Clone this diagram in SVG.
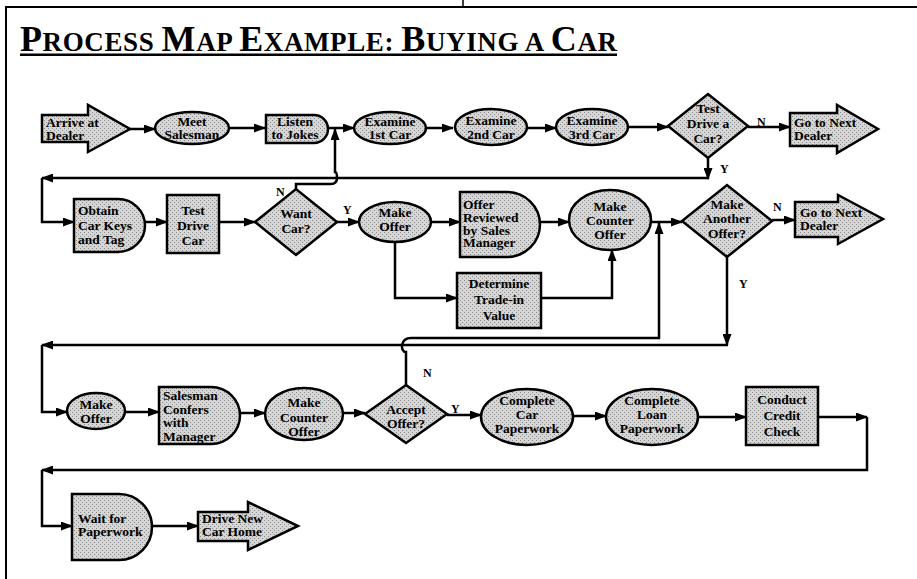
<svg xmlns="http://www.w3.org/2000/svg" width="917" height="579" viewBox="0 0 917 579">
<style>
.n{fill:url(#stip);stroke:#000;stroke-width:2.5}
.t{font-family:"Liberation Serif","Times New Roman",serif;font-weight:bold;font-size:13.5px;fill:#000}
.m{text-anchor:middle}
.c{fill:none;stroke:#000;stroke-width:2.5}
.a{marker-end:url(#ah)}
.l{font-family:"Liberation Serif","Times New Roman",serif;font-weight:bold;font-size:12px;fill:#000}
.ti{font-family:"Liberation Serif","Times New Roman",serif;font-weight:bold;fill:#000}
</style>
<defs>
<pattern id="stip" width="4" height="4" patternUnits="userSpaceOnUse">
<rect width="4" height="4" fill="#d6d6d6"/>
<rect x="0" y="0" width="1" height="1" fill="#8a8a8a"/>
<rect x="2" y="2" width="1" height="1" fill="#8a8a8a"/>
</pattern>
<marker id="ah" markerUnits="userSpaceOnUse" markerWidth="12" markerHeight="9" refX="11" refY="4.5" orient="auto">
<path d="M0,0 L12,4.5 L0,9 Z" fill="#000"/>
</marker>
</defs>
<rect width="917" height="579" fill="#fff"/>
<g id="frame" fill="none" stroke="#000">
<path d="M6,579 V7 H917" stroke-width="2"/>
<path d="M463,0 V7" stroke-width="1.5"/>
</g>
<g id="title">
<text class="ti" x="20" y="51" textLength="597"><tspan font-size="36">P</tspan><tspan font-size="27">ROCESS </tspan><tspan font-size="36">M</tspan><tspan font-size="27">AP </tspan><tspan font-size="36">E</tspan><tspan font-size="27">XAMPLE:  </tspan><tspan font-size="36">B</tspan><tspan font-size="27">UYING A </tspan><tspan font-size="36">C</tspan><tspan font-size="27">AR</tspan></text>
<rect x="20" y="53.5" width="597" height="2.5" fill="#000"/>
</g>
<g id="connectors">
<path class="c a" d="M130,129 H155"/>
<path class="c a" d="M230,128 H265"/>
<path class="c a" d="M328,128 H354"/>
<path class="c a" d="M427,128 H453"/>
<path class="c a" d="M527,128 H556"/>
<path class="c a" d="M628,127 H668"/>
<path class="c a" d="M748,127 H790"/>
<path class="c a" d="M708,158 V179"/>
<path class="c a" d="M709,178 H42"/>
<path class="c a" d="M42,178 V222 H74"/>
<path class="c a" d="M296,189 V184 H331 Q337,184 337,178 Q337,172 335,172 V129"/>
<path class="c a" d="M145,222 H167"/>
<path class="c a" d="M219,222 H255"/>
<path class="c a" d="M337,222 H359"/>
<path class="c a" d="M431,222 H460"/>
<path class="c a" d="M395,242 V298 H457"/>
<path class="c a" d="M540,222 H569"/>
<path class="c a" d="M541,298 H612 V250"/>
<path class="c a" d="M651,222 H682"/>
<path class="c a" d="M772,220 H795"/>
<path class="c a" d="M727,257 V345"/>
<path class="c a" d="M728,345 H42"/>
<path class="c a" d="M42,345 V412 H67"/>
<path class="c a" d="M406,385 V352 C400,352 400,338 411,338 H659 V223"/>
<path class="c a" d="M125,412 H159"/>
<path class="c a" d="M240,413 H265"/>
<path class="c a" d="M343,413 H365"/>
<path class="c a" d="M447,415 H481"/>
<path class="c a" d="M573,416 H606"/>
<path class="c a" d="M698,417 H746"/>
<path class="c a" d="M818,417 H867"/>
<path class="c a" d="M867,417 V470 H42"/>
<path class="c a" d="M42,470 V526 H72"/>
<path class="c a" d="M152,526 H198"/>
</g>
<g id="labels">
<text class="l" x="757" y="126">N</text>
<text class="l" x="720" y="173">Y</text>
<text class="l" x="276" y="196">N</text>
<text class="l" x="343" y="214">Y</text>
<text class="l" x="773" y="211">N</text>
<text class="l" x="739" y="288">Y</text>
<text class="l" x="423" y="377">N</text>
<text class="l" x="451" y="413">Y</text>
</g>
<g id="arrive">
<path class="n" d="M42,115 H88 V105 L130,129 L88,152 V142 H42 Z"/>
<text class="t"><tspan x="46" y="126.5">Arrive at</tspan><tspan x="46" y="139.5">Dealer</tspan></text>
</g>
<g id="meet">
<ellipse class="n" cx="192" cy="128" rx="37" ry="16"/>
<text class="t m"><tspan x="192" y="125.5">Meet</tspan><tspan x="192" y="138.5">Salesman</tspan></text>
</g>
<g id="listen">
<path class="n" d="M266,115 H314 A14,14 0 0 1 314,143 H266 Z"/>
<text class="t m"><tspan x="295" y="126">Listen</tspan><tspan x="295" y="139">to Jokes</tspan></text>
</g>
<g id="examine1">
<ellipse class="n" cx="390" cy="128" rx="36" ry="16"/>
<text class="t m"><tspan x="390" y="126">Examine</tspan><tspan x="390" y="139">1st Car</tspan></text>
</g>
<g id="examine2">
<ellipse class="n" cx="491" cy="127" rx="36" ry="18"/>
<text class="t m"><tspan x="491" y="125">Examine</tspan><tspan x="491" y="139">2nd Car</tspan></text>
</g>
<g id="examine3">
<ellipse class="n" cx="592" cy="127" rx="36" ry="18"/>
<text class="t m"><tspan x="592" y="125">Examine</tspan><tspan x="592" y="139">3rd Car</tspan></text>
</g>
<g id="testdrive-q">
<polygon class="n" points="668,126 708,94 748,126 708,158"/>
<text class="t m"><tspan x="708" y="113">Test</tspan><tspan x="708" y="128">Drive a</tspan><tspan x="708" y="143">Car?</tspan></text>
</g>
<g id="next1">
<path class="n" d="M790,113 H837 V105 L878,129 L837,153 V146 H790 Z"/>
<text class="t"><tspan x="794" y="127">Go to Next</tspan><tspan x="794" y="140">Dealer</tspan></text>
</g>
<g id="obtain">
<path class="n" d="M74,199 H118 A27,26.5 0 0 1 118,252 H74 Z"/>
<text class="t"><tspan x="78" y="215">Obtain</tspan><tspan x="78" y="229.5">Car Keys</tspan><tspan x="78" y="244">and Tag</tspan></text>
</g>
<g id="testdrive">
<rect class="n" x="167" y="195" width="52" height="58" stroke-width="3"/>
<text class="t m"><tspan x="193" y="215">Test</tspan><tspan x="193" y="230">Drive</tspan><tspan x="193" y="245">Car</tspan></text>
</g>
<g id="wantcar">
<polygon class="n" points="255,222 296,189 337,222 296,255"/>
<text class="t m"><tspan x="296" y="218">Want</tspan><tspan x="296" y="233">Car?</tspan></text>
</g>
<g id="makeoffer1">
<ellipse class="n" cx="395" cy="222" rx="36" ry="20"/>
<text class="t m"><tspan x="395" y="217">Make</tspan><tspan x="395" y="231">Offer</tspan></text>
</g>
<g id="reviewed">
<path class="n" d="M460,192 H507 A33,32.5 0 0 1 507,257 H460 Z"/>
<text class="t"><tspan x="463" y="209">Offer</tspan><tspan x="463" y="222">Reviewed</tspan><tspan x="463" y="234.5">by Sales</tspan><tspan x="463" y="247">Manager</tspan></text>
</g>
<g id="counter1">
<ellipse class="n" cx="610" cy="220" rx="41" ry="30"/>
<text class="t m"><tspan x="610" y="211">Make</tspan><tspan x="610" y="225">Counter</tspan><tspan x="610" y="239">Offer</tspan></text>
</g>
<g id="tradein">
<rect class="n" x="457" y="273" width="84" height="55"/>
<text class="t m"><tspan x="499" y="288">Determine</tspan><tspan x="499" y="304">Trade-in</tspan><tspan x="499" y="320">Value</tspan></text>
</g>
<g id="another">
<polygon class="n" points="682,221 727,185 772,221 727,257"/>
<text class="t m"><tspan x="727" y="209">Make</tspan><tspan x="727" y="223">Another</tspan><tspan x="727" y="238">Offer?</tspan></text>
</g>
<g id="next2">
<path class="n" d="M795,202 H838 V195 L883,219 L838,244 V237 H795 Z"/>
<text class="t"><tspan x="800" y="217">Go to Next</tspan><tspan x="800" y="230">Dealer</tspan></text>
</g>
<g id="makeoffer2">
<ellipse class="n" cx="96" cy="411" rx="29" ry="18"/>
<text class="t m"><tspan x="96" y="409">Make</tspan><tspan x="96" y="423">Offer</tspan></text>
</g>
<g id="confers">
<path class="n" d="M159,387 H211 A29,28.5 0 0 1 211,444 H159 Z"/>
<text class="t"><tspan x="163" y="400">Salesman</tspan><tspan x="163" y="413.5">Confers</tspan><tspan x="163" y="427">with</tspan><tspan x="163" y="440.5">Manager</tspan></text>
</g>
<g id="counter2">
<ellipse class="n" cx="304" cy="414" rx="39" ry="26"/>
<text class="t m"><tspan x="304" y="407">Make</tspan><tspan x="304" y="422">Counter</tspan><tspan x="304" y="436">Offer</tspan></text>
</g>
<g id="accept">
<polygon class="n" points="365,414 406,385 447,414 406,443"/>
<text class="t m"><tspan x="406" y="414">Accept</tspan><tspan x="406" y="428">Offer?</tspan></text>
</g>
<g id="carpaper">
<ellipse class="n" cx="527" cy="417" rx="46" ry="28"/>
<text class="t m"><tspan x="527" y="405">Complete</tspan><tspan x="527" y="419">Car</tspan><tspan x="527" y="433">Paperwork</tspan></text>
</g>
<g id="loanpaper">
<ellipse class="n" cx="652" cy="417" rx="46" ry="28"/>
<text class="t m"><tspan x="652" y="405">Complete</tspan><tspan x="652" y="419">Loan</tspan><tspan x="652" y="433">Paperwork</tspan></text>
</g>
<g id="credit">
<rect class="n" x="746" y="387" width="72" height="58" stroke-width="3"/>
<text class="t m"><tspan x="782" y="404">Conduct</tspan><tspan x="782" y="420">Credit</tspan><tspan x="782" y="436">Check</tspan></text>
</g>
<g id="wait">
<path class="n" d="M72,494 H119 A33,33 0 0 1 119,560 H72 Z"/>
<text class="t"><tspan x="78" y="523">Wait for</tspan><tspan x="78" y="536">Paperwork</tspan></text>
</g>
<g id="drivehome">
<path class="n" d="M198,512 H248 V502 L298,526 L248,550 V541 H198 Z"/>
<text class="t"><tspan x="202" y="523">Drive New</tspan><tspan x="202" y="536">Car Home</tspan></text>
</g>
</svg>
